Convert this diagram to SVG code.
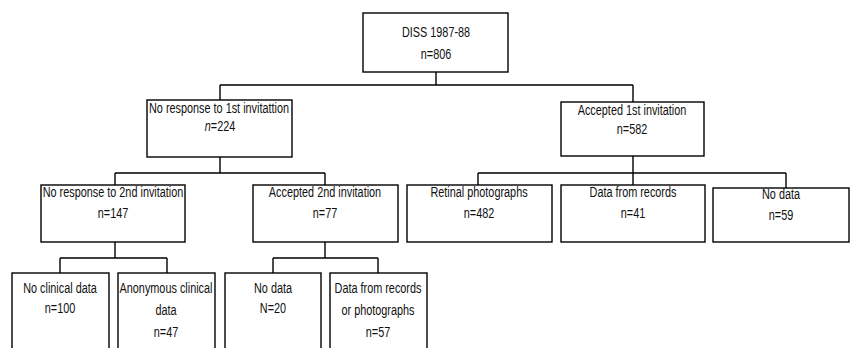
<svg xmlns="http://www.w3.org/2000/svg" width="851" height="348" viewBox="0 0 851 348">
<style>
.box{fill:#fff;stroke:#000;stroke-width:1.4}
.t{font-family:"Liberation Sans",Arial,sans-serif;font-size:14.5px;fill:#111;text-anchor:middle}
.c{fill:none;stroke:#000;stroke-width:1.4}
</style>
<rect width="851" height="348" fill="#fff"/>
<g id="connectors">
<path class="c" d="M436 72V85M220 85H633M220 85V100M633 85V102"/>
<path class="c" d="M220 157V173M115 173H325M115 173V185M325 173V185"/>
<path class="c" d="M633 156V185M478 173H786M478 173V185M786 173V188"/>
<path class="c" d="M115 242V258M60 258H167M60 258V273M167 258V273"/>
<path class="c" d="M325 242V258M273 258H378M273 258V273M378 258V273"/>
</g>
<g id="root"><rect class="box" x="363" y="13" width="145" height="59"/><text class="t" transform="translate(436 37) scale(0.75 1)">DISS 1987-88</text><text class="t" transform="translate(436 59) scale(0.75 1)">n=806</text></g>
<g id="noresp1"><rect class="box" x="147" y="100" width="145" height="57"/><text class="t" transform="translate(219 113) scale(0.75 1)">No response to 1st invitattion</text><text class="t" transform="translate(220 131) scale(0.75 1)"><tspan font-style="italic">n</tspan>=224</text></g>
<g id="acc1"><rect class="box" x="561" y="102" width="143" height="54"/><text class="t" transform="translate(632 115) scale(0.75 1)">Accepted 1st invitation</text><text class="t" transform="translate(632 134) scale(0.75 1)">n=582</text></g>
<g id="noresp2"><rect class="box" x="41" y="185" width="144" height="57"/><text class="t" transform="translate(113 197) scale(0.75 1)">No response to 2nd invitation</text><text class="t" transform="translate(113 218) scale(0.75 1)">n=147</text></g>
<g id="acc2"><rect class="box" x="253" y="185" width="145" height="57"/><text class="t" transform="translate(325 197) scale(0.75 1)">Accepted 2nd invitation</text><text class="t" transform="translate(325 218) scale(0.75 1)">n=77</text></g>
<g id="retinal"><rect class="box" x="407" y="185" width="145" height="57"/><text class="t" transform="translate(479 197) scale(0.75 1)">Retinal photographs</text><text class="t" transform="translate(479 218) scale(0.75 1)">n=482</text></g>
<g id="records"><rect class="box" x="561" y="185" width="144" height="57"/><text class="t" transform="translate(633 197) scale(0.75 1)">Data from records</text><text class="t" transform="translate(633 218) scale(0.75 1)">n=41</text></g>
<g id="nodata1"><rect class="box" x="713" y="188" width="136" height="54"/><text class="t" transform="translate(781 199) scale(0.75 1)">No data</text><text class="t" transform="translate(781 220) scale(0.75 1)">n=59</text></g>
<g id="noclin"><rect class="box" x="12" y="273" width="97" height="90"/><text class="t" transform="translate(60 293) scale(0.75 1)">No clinical data</text><text class="t" transform="translate(60 313) scale(0.75 1)">n=100</text></g>
<g id="anon"><rect class="box" x="118" y="273" width="97" height="90"/><text class="t" transform="translate(166 293) scale(0.75 1)">Anonymous clinical</text><text class="t" transform="translate(166 315) scale(0.75 1)">data</text><text class="t" transform="translate(166 337) scale(0.75 1)">n=47</text></g>
<g id="nodata2"><rect class="box" x="225" y="273" width="96" height="90"/><text class="t" transform="translate(273 293) scale(0.75 1)">No data</text><text class="t" transform="translate(273 313) scale(0.75 1)">N=20</text></g>
<g id="recphoto"><rect class="box" x="330" y="273" width="97" height="90"/><text class="t" transform="translate(378 293) scale(0.75 1)">Data from records</text><text class="t" transform="translate(378 315) scale(0.75 1)">or photographs</text><text class="t" transform="translate(378 337) scale(0.75 1)">n=57</text></g>
</svg>
